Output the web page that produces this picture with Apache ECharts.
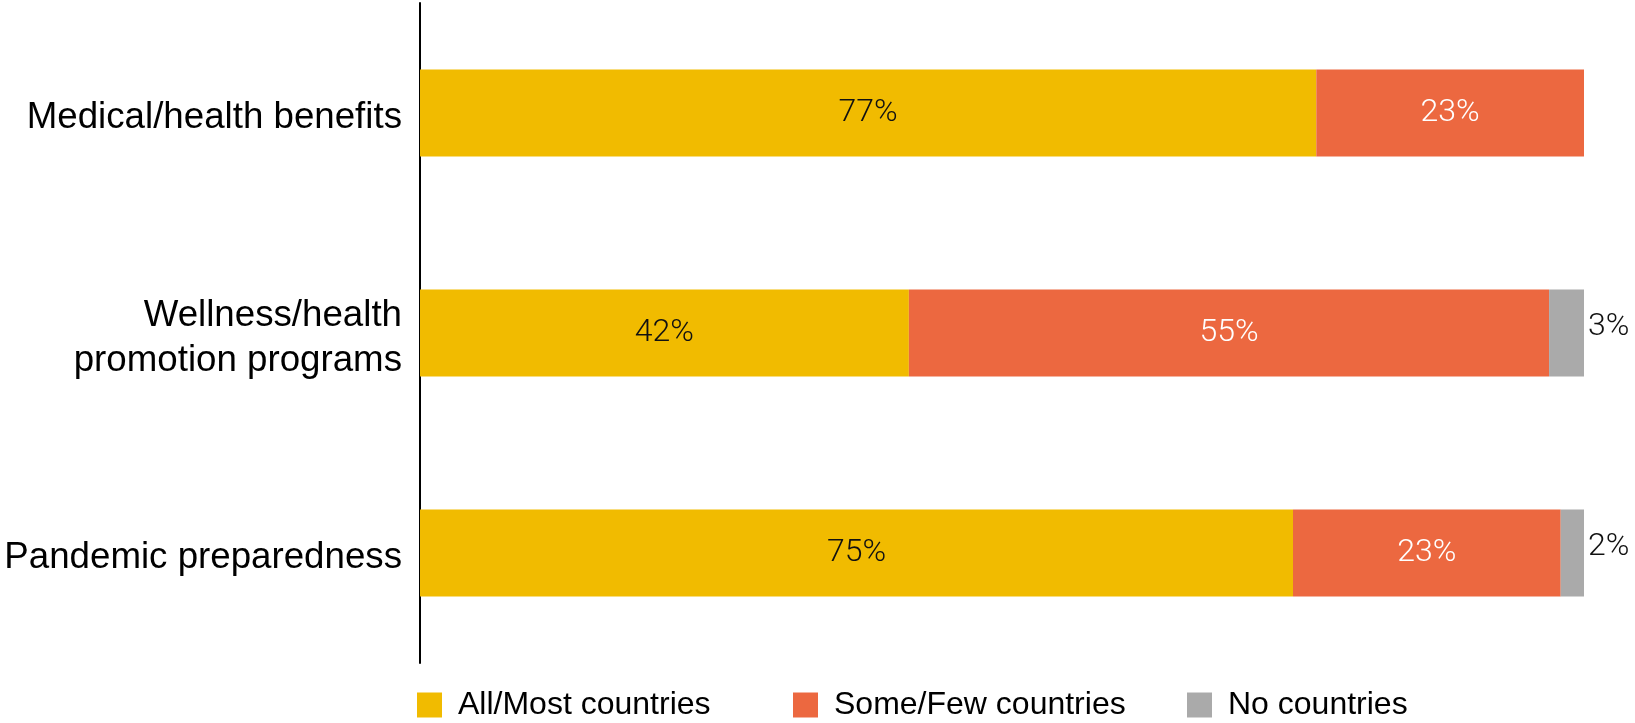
<!DOCTYPE html>
<html>
<head>
<meta charset="utf-8">
<title>Health benefits coverage</title>
<script src="https://cdn.jsdelivr.net/npm/echarts@6/dist/echarts.min.js"></script>
<style>
  html, body { margin: 0; padding: 0; background: #ffffff; }
  #chart { width: 1635px; height: 723px; }
</style>
</head>
<body>
<div id="chart"></div>
<script>
// Benefit categories, top to bottom
const categories = [
  'Medical/health benefits',
  'Wellness/health\npromotion programs',
  'Pandemic preparedness'
];

// Share of countries (%) per response
const seriesNames = ['All/Most countries', 'Some/Few countries', 'No countries'];
const allMost = [77, 42, 75];
const someFew = [23, 55, 23];
const none = [0, 3, 2];

const colors = ['#F1BB00', '#EC6840', '#AAAAAA'];
const labelFont = 'Roboto';
const textFont = 'Liberation Sans, Arial, sans-serif';

const chart = echarts.init(document.getElementById('chart'), null, { renderer: 'canvas' });

function pctLabel(p) { return p.value ? p.value + '%' : ''; }

// Category names as rich text, one token per line
function categoryLabel(v) {
  return v.split('\n').map(function (s) { return '{c|' + s + '}'; }).join('\n');
}

function barSeries(name, data, color, labelOpts) {
  return {
    name: name,
    type: 'bar',
    stack: 'total',
    data: data,
    barWidth: 87,
    itemStyle: { color: color },
    emphasis: { disabled: true },
    label: Object.assign({
      show: true,
      formatter: pctLabel,
      fontFamily: labelFont,
      fontWeight: 300,
      fontSize: 32
    }, labelOpts)
  };
}

const legendBase = {
  orient: 'horizontal',
  top: 689,
  padding: 0,
  itemWidth: 25,
  itemHeight: 25,
  icon: 'rect',
  selectedMode: false,
  textStyle: {
    fontFamily: textFont,
    fontSize: 32,
    color: '#000000',
    padding: [0, 0, 0, 11]
  }
};

chart.setOption({
  animation: false,
  grid: {
    left: 420, right: 51, top: 3, height: 660,
    containLabel: false,
    outerBoundsMode: 'none'
  },
  legend: [
    Object.assign({}, legendBase, { left: 417, data: [seriesNames[0]] }),
    Object.assign({}, legendBase, { left: 793, data: [seriesNames[1]] }),
    Object.assign({}, legendBase, { left: 1187, data: [seriesNames[2]] })
  ],
  xAxis: {
    type: 'value',
    min: 0,
    max: 100,
    show: false
  },
  yAxis: {
    type: 'category',
    data: categories,
    inverse: true,
    axisLine: { show: true, lineStyle: { color: '#000000', width: 2 } },
    axisTick: { show: false },
    splitLine: { show: false },
    axisLabel: {
      formatter: categoryLabel,
      margin: 18,
      align: 'right',
      rich: {
        c: {
          fontFamily: textFont,
          fontSize: 36.7,
          lineHeight: 45,
          color: '#000000',
          padding: [10, 0, 0, 0]
        }
      }
    }
  },
  series: [
    barSeries(seriesNames[0], allMost, colors[0], { position: 'inside', color: '#111111' }),
    barSeries(seriesNames[1], someFew, colors[1], { position: 'inside', color: '#ffffff' }),
    barSeries(seriesNames[2], none, colors[2], { position: 'right', distance: 4, offset: [0, -6], color: '#111111' })
  ]
});
</script>
</body>
</html>
